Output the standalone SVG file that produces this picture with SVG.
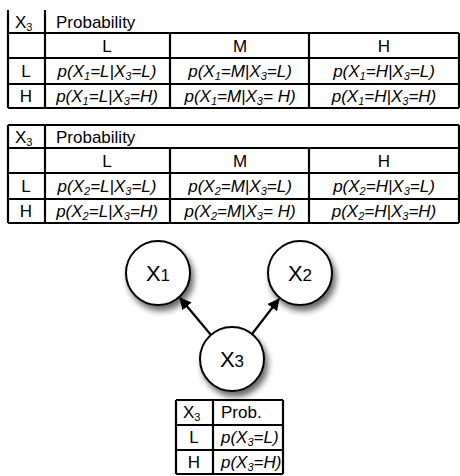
<svg xmlns="http://www.w3.org/2000/svg" width="460" height="476" viewBox="0 0 460 476">
<style>
text{font-family:"Liberation Sans",Arial,sans-serif;font-size:17px;fill:#000}
.c{text-anchor:middle}
.i{font-style:italic}
.s{font-size:11px}
.g{stroke:#000;stroke-width:2.2;fill:none}
.node circle{fill:#fff;stroke:#000;stroke-width:2}
.nl{font-size:22px;text-anchor:middle}
</style>
<defs>
<filter id="sh" x="-40%" y="-40%" width="180%" height="180%">
<feGaussianBlur in="SourceAlpha" stdDeviation="3"/>
<feOffset dx="3" dy="5" result="b"/>
<feComponentTransfer><feFuncA type="linear" slope="0.6"/></feComponentTransfer>
<feMerge><feMergeNode/><feMergeNode in="SourceGraphic"/></feMerge>
</filter>
<marker id="ah" markerWidth="12" markerHeight="12" refX="11" refY="6" orient="auto" markerUnits="userSpaceOnUse">
<path d="M0,0 L12,6 L0,12 z" fill="#000"/>
</marker>
</defs>

<g id="table1">
<path class="g" d="M8,10 V108 M45,10 V108 M8,33 H459 M8,58 H459 M8,84 H459 M8,108 H459 M170,33 V108 M309,33 V108 M459,33 V108"/>
<text x="15" y="28">X<tspan class="s" dy="3">3</tspan></text>
<text x="56" y="28">Probability</text>
<text class="c" x="107" y="52">L</text>
<text class="c" x="240" y="52">M</text>
<text class="c" x="384" y="52">H</text>
<text class="c" x="26" y="77">L</text>
<text class="c" x="26" y="102">H</text>
<text class="c i" x="107" y="77">p(X<tspan class="s" dy="3">1</tspan><tspan dy="-3">=L|X</tspan><tspan class="s" dy="3">3</tspan><tspan dy="-3">=L)</tspan></text>
<text class="c i" x="240" y="77">p(X<tspan class="s" dy="3">1</tspan><tspan dy="-3">=M|X</tspan><tspan class="s" dy="3">3</tspan><tspan dy="-3">=L)</tspan></text>
<text class="c i" x="384" y="77">p(X<tspan class="s" dy="3">1</tspan><tspan dy="-3">=H|X</tspan><tspan class="s" dy="3">3</tspan><tspan dy="-3">=L)</tspan></text>
<text class="c i" x="107" y="102">p(X<tspan class="s" dy="3">1</tspan><tspan dy="-3">=L|X</tspan><tspan class="s" dy="3">3</tspan><tspan dy="-3">=H)</tspan></text>
<text class="c i" x="240" y="102">p(X<tspan class="s" dy="3">1</tspan><tspan dy="-3">=M|X</tspan><tspan class="s" dy="3">3</tspan><tspan dy="-3">= H)</tspan></text>
<text class="c i" x="384" y="102">p(X<tspan class="s" dy="3">1</tspan><tspan dy="-3">=H|X</tspan><tspan class="s" dy="3">3</tspan><tspan dy="-3">=H)</tspan></text>
</g>

<g id="table2">
<path class="g" d="M8,125 V223 M45,125 V223 M459,125 V223 M8,125 H459 M8,148 H459 M8,173 H459 M8,199 H459 M8,223 H459 M170,148 V223 M309,148 V223"/>
<text x="15" y="143">X<tspan class="s" dy="3">3</tspan></text>
<text x="56" y="143">Probability</text>
<text class="c" x="107" y="167">L</text>
<text class="c" x="240" y="167">M</text>
<text class="c" x="384" y="167">H</text>
<text class="c" x="26" y="192">L</text>
<text class="c" x="26" y="217">H</text>
<text class="c i" x="107" y="192">p(X<tspan class="s" dy="3">2</tspan><tspan dy="-3">=L|X</tspan><tspan class="s" dy="3">3</tspan><tspan dy="-3">=L)</tspan></text>
<text class="c i" x="240" y="192">p(X<tspan class="s" dy="3">2</tspan><tspan dy="-3">=M|X</tspan><tspan class="s" dy="3">3</tspan><tspan dy="-3">=L)</tspan></text>
<text class="c i" x="384" y="192">p(X<tspan class="s" dy="3">2</tspan><tspan dy="-3">=H|X</tspan><tspan class="s" dy="3">3</tspan><tspan dy="-3">=L)</tspan></text>
<text class="c i" x="107" y="217">p(X<tspan class="s" dy="3">2</tspan><tspan dy="-3">=L|X</tspan><tspan class="s" dy="3">3</tspan><tspan dy="-3">=H)</tspan></text>
<text class="c i" x="240" y="217">p(X<tspan class="s" dy="3">2</tspan><tspan dy="-3">=M|X</tspan><tspan class="s" dy="3">3</tspan><tspan dy="-3">= H)</tspan></text>
<text class="c i" x="384" y="217">p(X<tspan class="s" dy="3">2</tspan><tspan dy="-3">=H|X</tspan><tspan class="s" dy="3">3</tspan><tspan dy="-3">=H)</tspan></text>
</g>

<g id="connectors">
<line class="g" x1="211" y1="335" x2="180" y2="298" marker-end="url(#ah)"/>
<line class="g" x1="252" y1="334" x2="279" y2="299" marker-end="url(#ah)"/>
</g>

<g id="x1" class="node">
<circle cx="158" cy="273" r="32" filter="url(#sh)"/>
<text class="nl" x="158" y="281">X<tspan font-size="17">1</tspan></text>
</g>
<g id="x2" class="node">
<circle cx="300" cy="273" r="32" filter="url(#sh)"/>
<text class="nl" x="300" y="281">X<tspan font-size="17">2</tspan></text>
</g>
<g id="x3" class="node">
<circle cx="232" cy="359" r="32" filter="url(#sh)"/>
<text class="nl" x="232" y="367">X<tspan font-size="17">3</tspan></text>
</g>

<g id="table3">
<path class="g" d="M176,400 V474 M213,400 V474 M283,400 V474 M176,400 H283 M176,425 H283 M176,450 H283 M176,474 H283"/>
<text x="183" y="418">X<tspan class="s" dy="3">3</tspan></text>
<text x="221" y="418">Prob.</text>
<text class="c" x="194" y="443">L</text>
<text class="c" x="194" y="468">H</text>
<text class="i" x="221" y="443">p(X<tspan class="s" dy="3">3</tspan><tspan dy="-3">=L)</tspan></text>
<text class="i" x="221" y="468">p(X<tspan class="s" dy="3">3</tspan><tspan dy="-3">=H)</tspan></text>
</g>
</svg>
